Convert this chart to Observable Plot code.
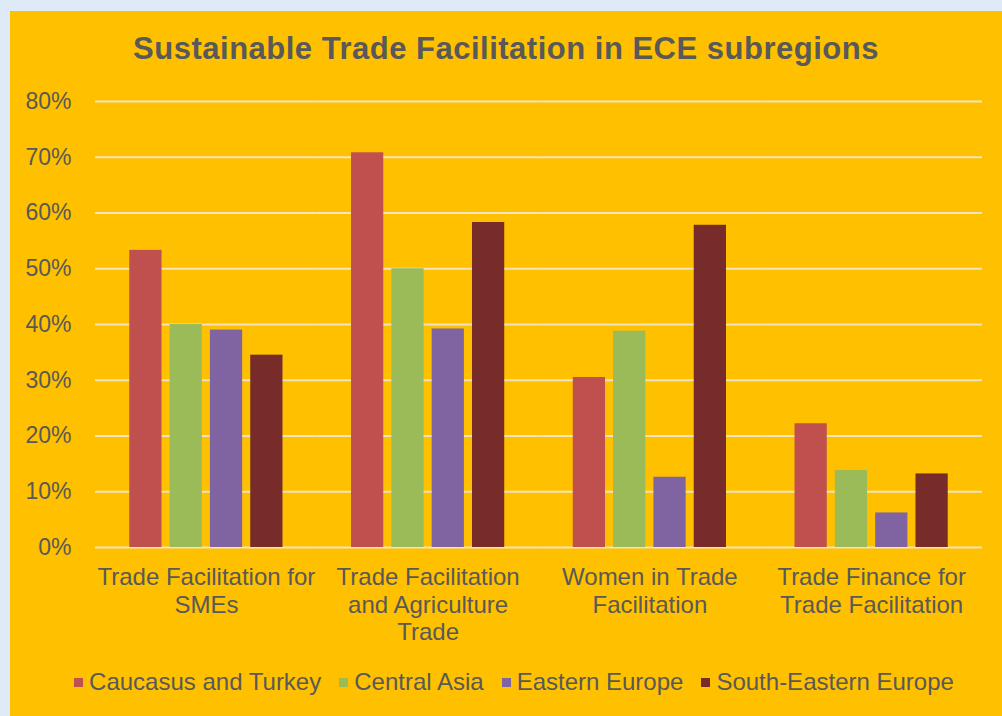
<!DOCTYPE html>
<html>
<head>
<meta charset="utf-8">
<script src="https://cdn.jsdelivr.net/npm/d3@7"></script>
<script src="https://cdn.jsdelivr.net/npm/@observablehq/plot@0.6"></script>
<style>
  html, body { margin: 0; padding: 0; width: 1002px; height: 716px; overflow: hidden; background: #DEEBF7; }
  #panel { position: absolute; left: 10px; top: 11px; width: 992px; height: 705px; background: #FFC000;
           font-family: "Liberation Sans", Arial, sans-serif; color: #595959; }
  #title { margin: 0; padding-top: 21px; height: 33px; font-size: 31px; line-height: 34px; letter-spacing: 0.5px; font-weight: bold; text-align: center; color: #595959; white-space: nowrap; }
  #chart svg { display: block; }
  #legend { display: flex; justify-content: center; align-items: center; padding-top: 12px; padding-left: 16px; font-size: 24px; line-height: 30px; }
  .item { display: flex; align-items: center; margin: 0 9px; }
  .sw { width: 9px; height: 9px; margin-right: 6px; }
</style>
</head>
<body>
<div id="panel">
  <div id="title">Sustainable Trade Facilitation in ECE subregions</div>
  <div id="chart"></div>
  <div id="legend"></div>
</div>
<script>
const groups = [
  "Trade Facilitation for SMEs",
  "Trade Facilitation and Agriculture Trade",
  "Women in Trade Facilitation",
  "Trade Finance for Trade Facilitation"
];
const groupLabels = [
  "Trade Facilitation for\nSMEs",
  "Trade Facilitation\nand Agriculture\nTrade",
  "Women in Trade\nFacilitation",
  "Trade Finance for\nTrade Facilitation"
];
const series = ["Caucasus and Turkey", "Central Asia", "Eastern Europe", "South-Eastern Europe"];
const colors = ["#C0504D", "#9BBB59", "#8064A2", "#772C2A"];
const caucasusTurkey = [53.3, 70.8, 30.5, 22.2];
const centralAsia = [40.0, 50.0, 38.8, 13.8];
const easternEurope = [39.0, 39.2, 12.6, 6.2];
const southEasternEurope = [34.5, 58.3, 57.8, 13.2];
const yTicks = [0, 10, 20, 30, 40, 50, 60, 70, 80];

const seriesValues = [caucasusTurkey, centralAsia, easternEurope, southEasternEurope];
const data = groups.flatMap((g, i) => series.map((s, j) => ({group: g, series: s, value: seriesValues[j][i]})));

const chart = Plot.plot({
  width: 992,
  height: 590,
  marginTop: 36,
  marginLeft: 85,
  marginRight: 20,
  marginBottom: 108,
  style: {background: "transparent", fontFamily: "'Liberation Sans', Arial, sans-serif", color: "#595959"},
  fx: {domain: groups, padding: 0, round: false, label: null},
  x: {domain: series, paddingInner: 0.2, paddingOuter: 0.85, round: false, axis: null},
  y: {domain: [0, 80], label: null},
  color: {domain: series, range: colors},
  marks: [
    Plot.gridY(yTicks, {stroke: "#F2E4C0", strokeOpacity: 1, strokeWidth: 2}),
    Plot.barY(data, {fx: "group", x: "series", y: "value", fill: "series"}),
    Plot.axisY(yTicks, {tickSize: 0, tickPadding: 24, tickFormat: d => d + "%", fontSize: 23, label: null}),
    Plot.axisFx({anchor: "bottom", tickSize: 0, tickPadding: 18, tickFormat: d => groupLabels[groups.indexOf(d)], fontSize: 24, lineHeight: 1.15, label: null})
  ]
});
document.getElementById("chart").appendChild(chart);

const legend = document.getElementById("legend");
series.forEach((s, i) => {
  const item = document.createElement("div");
  item.className = "item";
  const sw = document.createElement("div");
  sw.className = "sw";
  sw.style.background = colors[i];
  const t = document.createElement("span");
  t.textContent = s;
  item.appendChild(sw);
  item.appendChild(t);
  legend.appendChild(item);
});
</script>
</body>
</html>
